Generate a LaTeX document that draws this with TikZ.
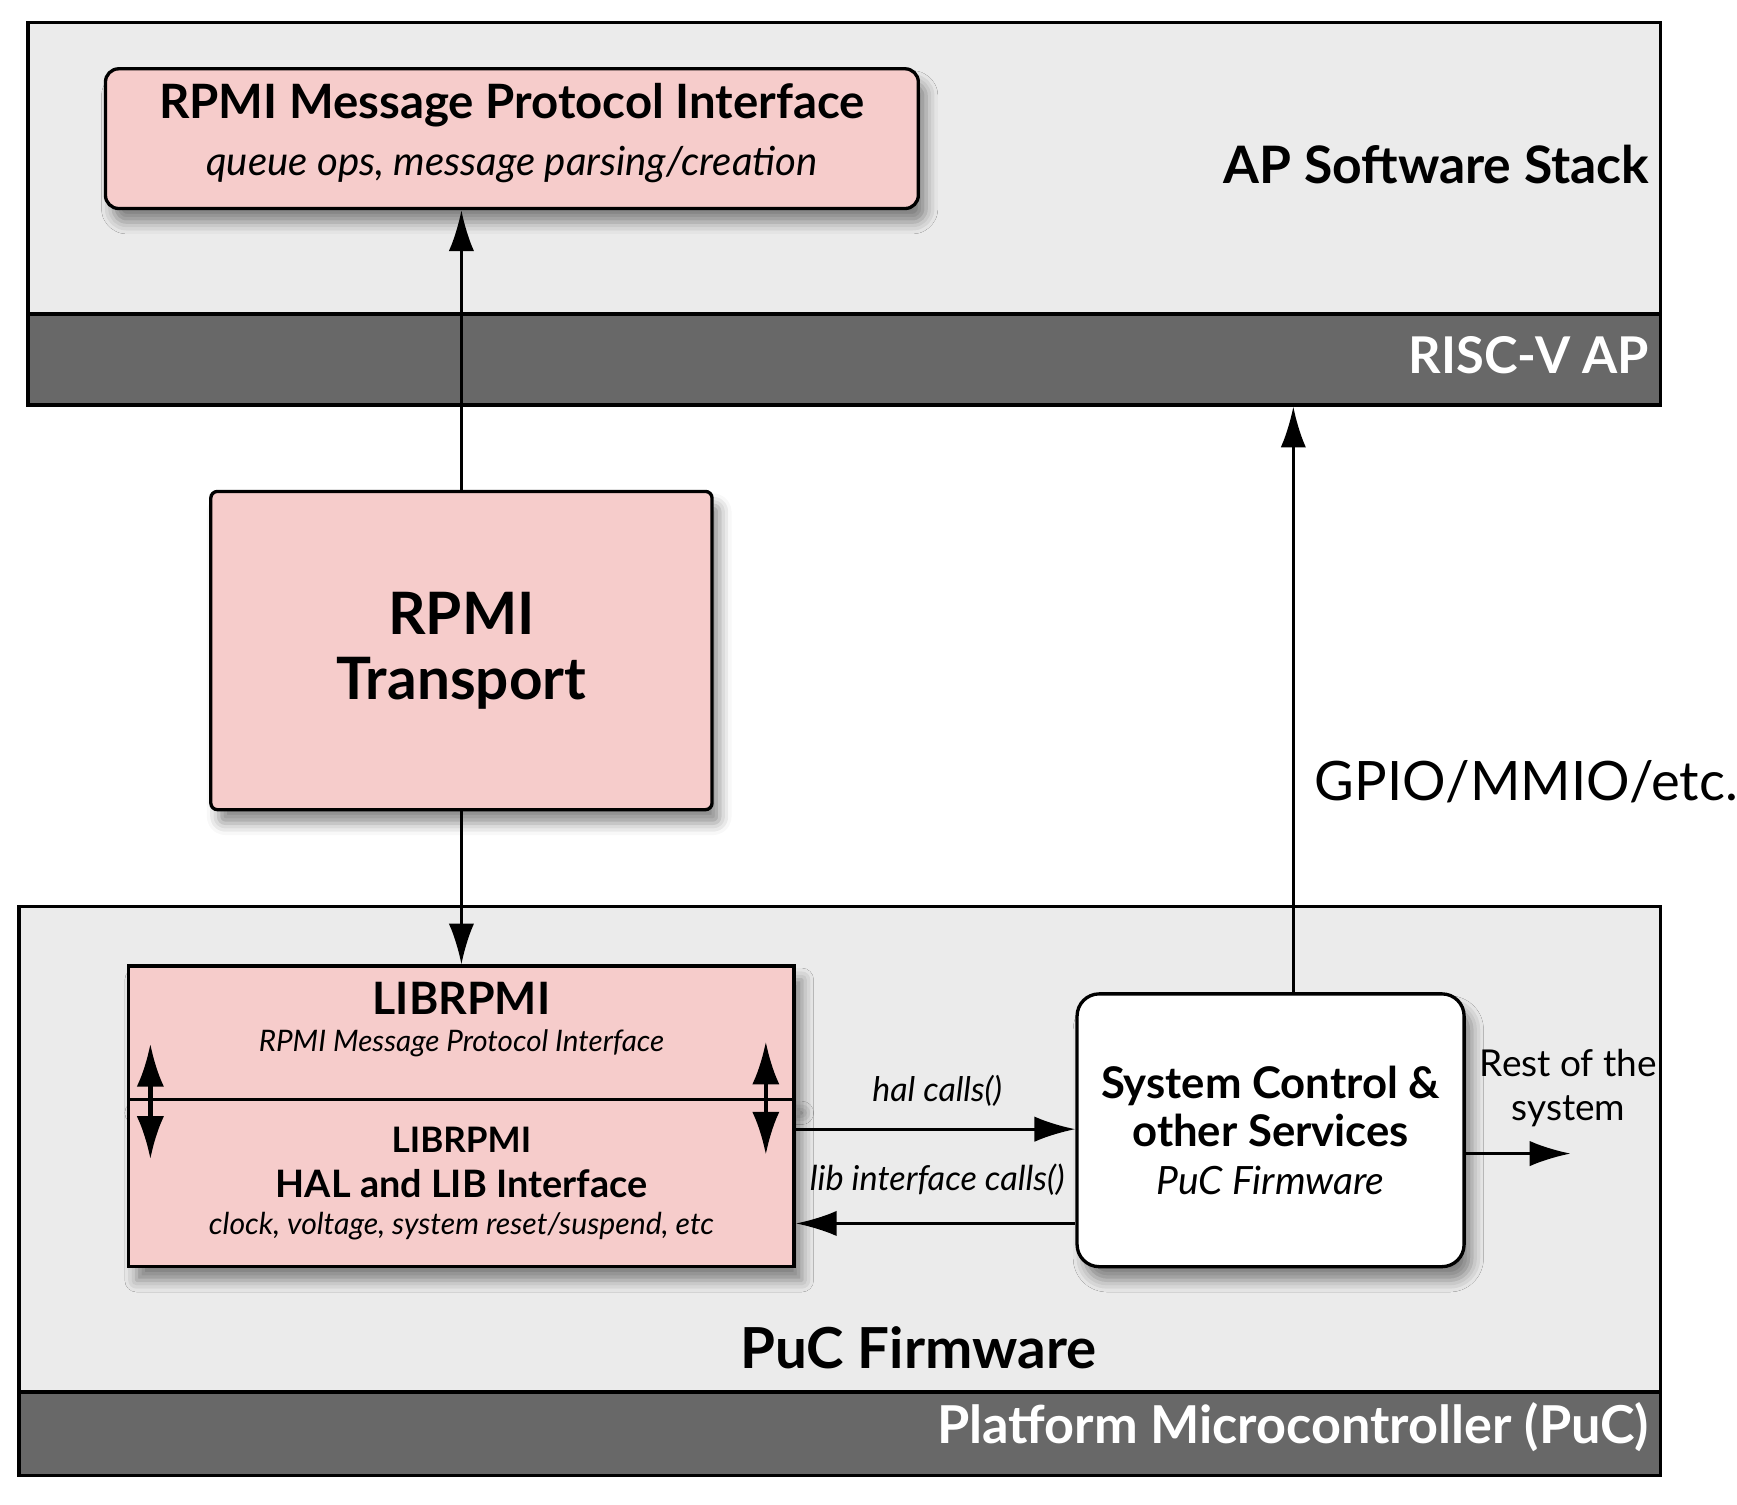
\documentclass[tikz,border=0pt]{standalone}
\usepackage{fontspec}
\setmainfont{Lato}
\usetikzlibrary{arrows.meta,calc,shadows.blur}
\definecolor{layergray}{HTML}{EBEBEB}
\definecolor{bandgray}{HTML}{686868}
\definecolor{rpmipink}{HTML}{F6CCCB}
\def\fsz#1#2{\fontsize{#1}{#2}\selectfont}

\begin{document}
\begin{tikzpicture}[x=0.02cm,y=-0.02cm,
	layer/.style={draw,line width=1.7pt,fill=layergray,inner sep=0pt},
	band/.style={draw,line width=1.7pt,fill=bandgray,inner sep=0pt},
	boxshadow/.style={blur shadow={shadow xshift=4pt,shadow yshift=-7pt,shadow blur radius=6pt,shadow opacity=45}},
	pinkbox/.style={draw,line width=1.7pt,fill=rpmipink,inner sep=0pt,boxshadow},
	whitebox/.style={draw,line width=1.7pt,fill=white,inner sep=0pt,boxshadow},
	conn/.style={line width=1.5pt,-{Latex[length=21pt,width=13pt]}},
	dblconn/.style={line width=2.2pt,{Latex[length=22pt,width=14pt]}-{Latex[length=22pt,width=14pt]}}]
		%%%%% START %%%%%
		
		\useasboundingbox (0,0) rectangle (1566,1356);
		
		% AP side
		\node[layer,minimum width=29.44cm,minimum height=6.9cm] (aplayer) at (761,192.5) {};
		\node[band,minimum width=29.44cm,minimum height=1.64cm] (riscv) at (761,324) {};
		\node[anchor=east,inner sep=0pt,font=\fsz{26.5}{30}\bfseries] (apstack) at (1487,148) {AP Software Stack};
		\node[anchor=east,inner sep=0pt,font=\fsz{26}{30}\bfseries,text=white] (riscvlabel) at (1487,320) {RISC-V AP};
		
		\node[pinkbox,rounded corners=0.24cm,minimum width=14.66cm,minimum height=2.52cm] (msgif) at (461.5,125) {};
		\node[font=\fsz{24.3}{28}\bfseries] (msgiftitle) at (461.5,95) {RPMI Message Protocol Interface};
		\node[font=\fsz{20.6}{24}\itshape] (msgifsub) at (461.5,148) {queue ops, message parsing/creation};
		
		% transport
		\node[pinkbox,rounded corners=0.12cm,minimum width=9.04cm,minimum height=5.74cm,align=center,
			font=\fsz{30}{33.5}\bfseries] (transport) at (416,586.5) {RPMI\\Transport};
		
		% PuC side
		\node[layer,minimum width=29.6cm,minimum height=10.26cm] (puclayer) at (757,1073.5) {};
		\node[band,minimum width=29.6cm,minimum height=1.5cm] (pucband) at (757,1292.5) {};
		\node[font=\fsz{29}{33}\bfseries] (pucfw) at (828,1215) {PuC Firmware};
		\node[anchor=east,inner sep=0pt,font=\fsz{26.8}{30}\bfseries,text=white] (puclabel) at (1487,1287) {Platform Microcontroller (PuC)};
		
		\node[pinkbox,minimum width=12cm,minimum height=2.4cm] (libhigh) at (416,931) {};
		\node[pinkbox,minimum width=12cm,minimum height=3.02cm] (liblow) at (416,1066.5) {};
		\node[font=\fsz{22.9}{26}\bfseries] (libhightitle) at (416,900) {LIBRPMI};
		\node[font=\fsz{15.2}{18}\itshape] (libhighsub) at (416,941) {RPMI Message Protocol Interface};
		\node[font=\fsz{18}{22}\bfseries] (liblowtitle) at (416,1028) {LIBRPMI};
		\node[font=\fsz{19.4}{22}\bfseries] (liblowname) at (416,1067) {HAL and LIB Interface};
		\node[font=\fsz{15.5}{18}\itshape] (liblowsub) at (416,1105) {clock, voltage, system reset/suspend, etc};
		
		\draw[dblconn] ($(libhigh.west)+(21,10)$) -- ($(liblow.west)+(21,-21.5)$);
		\draw[dblconn] ($(libhigh.east)+(-27,8)$) -- ($(liblow.east)+(-27,-25.5)$);
		
		\node[whitebox,rounded corners=0.4cm,minimum width=6.98cm,minimum height=4.92cm,align=center,
			font=\fsz{22.4}{24.7}\bfseries] (sysctl) at (1145.5,1019)
			{System Control \&\\other Services\\{\normalfont\fsz{20}{24.7}\itshape PuC Firmware}};
		
		% connectors
		\draw[conn] (transport.north) -- (transport.north |- msgif.south);
		\draw[conn] (transport.south) -- (libhigh.north);
		
		\coordinate (halrow) at (0,1018);
		\coordinate (librow) at (0,1103);
		\draw[conn] (halrow -| liblow.east) -- (halrow -| sysctl.west);
		\draw[conn] (librow -| sysctl.west) -- (librow -| liblow.east);
		\node[font=\fsz{17.4}{20}\itshape] (hallabel) at (845,983) {hal calls()};
		\node[font=\fsz{17.6}{20}\itshape] (liblabel) at (845,1064) {lib interface calls()};
		
		\coordinate (gpiocol) at (1166,0);
		\draw[conn] (gpiocol |- sysctl.north) -- (gpiocol |- riscv.south);
		\node[anchor=west,inner sep=0pt,font=\fsz{27.9}{31}] (gpiolabel) at (1185,705) {GPIO/MMIO/etc.};
		
		\coordinate (rest) at (1416,1040);
		\draw[conn] (rest -| sysctl.east) -- (rest);
		\node[align=center,font=\fsz{19}{22.7}] (restlabel) at (1414,981) {Rest of the\\system};
		
		%%%%% END %%%%%
\end{tikzpicture}
\end{document}
